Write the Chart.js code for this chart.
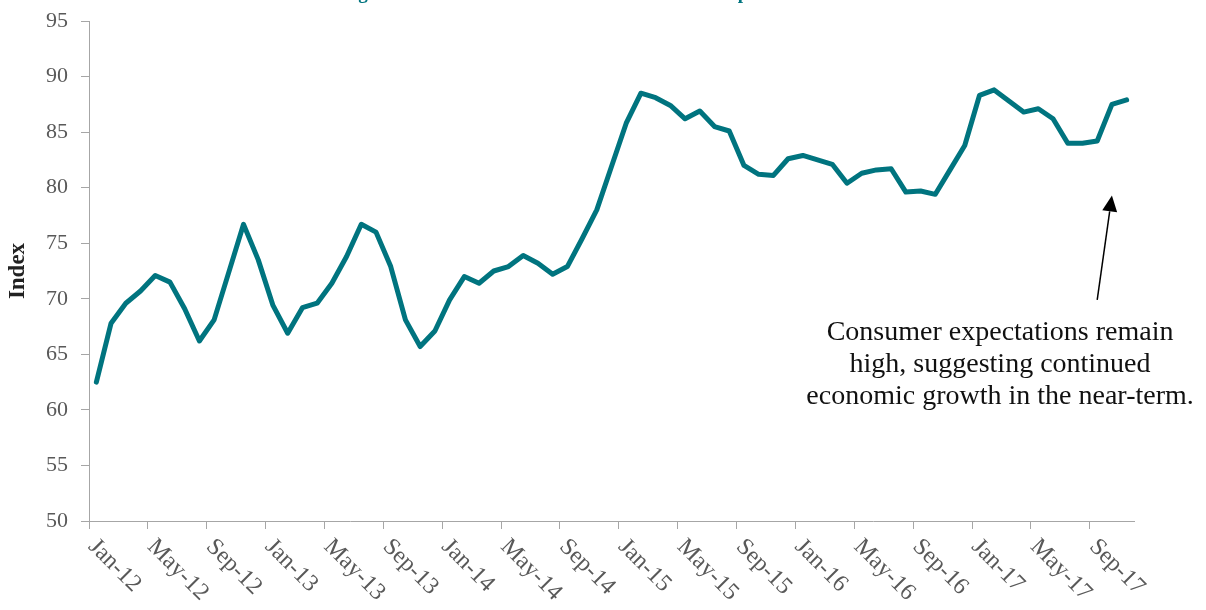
<!DOCTYPE html>
<html>
<head>
<meta charset="utf-8">
<script src="https://cdn.jsdelivr.net/npm/chart.js@4.4.1/dist/chart.umd.min.js"></script>
<style>
  body { margin: 0; background: #fff; }
  #wrap { width: 1206px; height: 610px; position: relative; }
</style>
</head>
<body>
<div id="wrap"><canvas id="expectativas"></canvas></div>
<script>
// meses de jan/2012 a nov/2017
const meses = ['Jan', 'Feb', 'Mar', 'Apr', 'May', 'Jun', 'Jul', 'Aug', 'Sep', 'Oct', 'Nov', 'Dec'];
const anos = ['12', '13', '14', '15', '16', '17'];
const categorias = anos.flatMap(a => meses.map(m => m + '-' + a)).slice(0, 71);

// índice de expectativas do consumidor
const indice = [
    62.5, 67.8, 69.6, 70.7, 72.1, 71.5, 69.1, 66.2, 68.1, 72.4, 76.7, 73.5,
    69.4, 66.9, 69.2, 69.6, 71.4, 73.8, 76.7, 76.0, 72.9, 68.1, 65.7, 67.1,
    69.9, 72.0, 71.4, 72.5, 72.9, 73.9, 73.2, 72.2, 72.9, 75.4, 78.0, 81.9,
    85.8, 88.5, 88.1, 87.4, 86.2, 86.9, 85.5, 85.1, 82.0, 81.2, 81.1, 82.6,
    82.9, 82.5, 82.1, 80.4, 81.3, 81.6, 81.7, 79.6, 79.7, 79.4, 81.6, 83.8,
    88.3, 88.8, 87.8, 86.8, 87.1, 86.2, 84.0, 84.0, 84.2, 87.5, 87.9
];

const eixoY = { min: 50, max: 95, passo: 5 };

const titulo = 'Michigan Consumer Sentiment Index: Consumer Expectations';
const nota = ['Consumer expectations remain', 'high, suggesting continued', 'economic growth in the near-term.'];

const fonte = '"Liberation Serif", "DejaVu Serif", serif';
const teal = '#00747f';
const cinza = '#a6a6a6';
const texto = '#595959';

// textos e seta desenhados por cima do gráfico
const extras = {
    id: 'extras',
    afterDraw(chart) {
        const ctx = chart.ctx;
        const x = chart.scales.x;
        const y = chart.scales.y;
        const largura = x.getPixelForValue(1) - x.getPixelForValue(0);

        // rótulos do eixo x inclinados
        ctx.save();
        ctx.fillStyle = texto;
        ctx.font = '24px ' + fonte;
        ctx.textAlign = 'left';
        ctx.textBaseline = 'middle';
        categorias.forEach((c, i) => {
            if (i % 4 !== 0) return;
            const bx = x.getPixelForValue(i) - largura / 2;
            ctx.save();
            ctx.translate(bx + 3, chart.chartArea.bottom + 22);
            ctx.rotate(Math.PI / 4);
            ctx.fillText(c, 0, 0);
            ctx.restore();
        });
        ctx.restore();

        // título (só o pé das letras aparece no topo)
        ctx.save();
        ctx.fillStyle = teal;
        ctx.font = 'bold 20px ' + fonte;
        const iG = titulo.indexOf('g');
        const iP = titulo.indexOf('p');
        const cg = ctx.measureText(titulo.slice(0, iG)).width + ctx.measureText('g').width / 2;
        const cp = ctx.measureText(titulo.slice(0, iP)).width + ctx.measureText('p').width / 2;
        const k = 380 / (cp - cg);
        ctx.font = 'bold ' + (20 * k).toFixed(1) + 'px ' + fonte;
        ctx.textAlign = 'left';
        ctx.textBaseline = 'alphabetic';
        ctx.fillText(titulo, 363 - cg * k, -1);
        ctx.restore();

        // anotação
        ctx.save();
        ctx.fillStyle = '#111';
        ctx.font = '28px ' + fonte;
        ctx.textAlign = 'center';
        ctx.textBaseline = 'alphabetic';
        const nx = x.getPixelForValue(61.4);
        const ny = y.getPixelForValue(66.3);
        nota.forEach((l, i) => ctx.fillText(l, nx, ny + i * 32));

        // seta
        const x0 = x.getPixelForValue(68.0), y0 = y.getPixelForValue(69.9);
        const x1 = x.getPixelForValue(69.0), y1 = y.getPixelForValue(79.3);
        const ang = Math.atan2(y1 - y0, x1 - x0);
        const comp = 16, meia = 7.5;
        const bxh = x1 - comp * Math.cos(ang), byh = y1 - comp * Math.sin(ang);
        ctx.strokeStyle = '#000';
        ctx.lineWidth = 1.5;
        ctx.beginPath();
        ctx.moveTo(x0, y0);
        ctx.lineTo(bxh, byh);
        ctx.stroke();
        ctx.fillStyle = '#000';
        ctx.beginPath();
        ctx.moveTo(x1, y1);
        ctx.lineTo(bxh + meia * Math.sin(ang), byh - meia * Math.cos(ang));
        ctx.lineTo(bxh - meia * Math.sin(ang), byh + meia * Math.cos(ang));
        ctx.closePath();
        ctx.fill();
        ctx.restore();
    }
};

new Chart(document.getElementById('expectativas'), {
    type: 'line',
    data: {
        labels: categorias,
        datasets: [{
            label: 'Index',
            data: indice,
            borderColor: teal,
            borderWidth: 5,
            borderJoinStyle: 'round',
            borderCapStyle: 'round',
            pointRadius: 0,
            tension: 0,
            fill: false
        }]
    },
    options: {
        responsive: true,
        maintainAspectRatio: false,
        animation: false,
        layout: { padding: { left: 0, right: 72, top: 21, bottom: 0 } },
        plugins: {
            legend: { display: false },
            tooltip: { enabled: false }
        },
        scales: {
            x: {
                offset: true,
                afterFit: s => { s.height = 89; },
                grid: {
                    offset: true,
                    drawOnChartArea: false,
                    drawTicks: true,
                    tickLength: 8,
                    tickColor: c => (c.index % 4 === 0 ? cinza : 'rgba(0,0,0,0)')
                },
                border: { display: true, color: cinza, width: 1 },
                ticks: { display: false, autoSkip: false }
            },
            y: {
                min: eixoY.min,
                max: eixoY.max,
                afterFit: s => {
                    s.width = 89;
                    s.paddingTop = 10;
                    s.paddingBottom = 10;
                },
                grid: {
                    drawOnChartArea: false,
                    drawTicks: true,
                    tickLength: 8,
                    tickColor: cinza
                },
                border: { display: true, color: cinza, width: 1 },
                ticks: {
                    stepSize: eixoY.passo,
                    color: texto,
                    padding: 13,
                    font: { family: fonte, size: 22 }
                },
                title: {
                    display: true,
                    text: 'Index',
                    color: '#222',
                    font: { family: fonte, size: 23, weight: 'bold' },
                    padding: { top: 4, bottom: 0 }
                }
            }
        }
    },
    plugins: [extras]
});
</script>
</body>
</html>
